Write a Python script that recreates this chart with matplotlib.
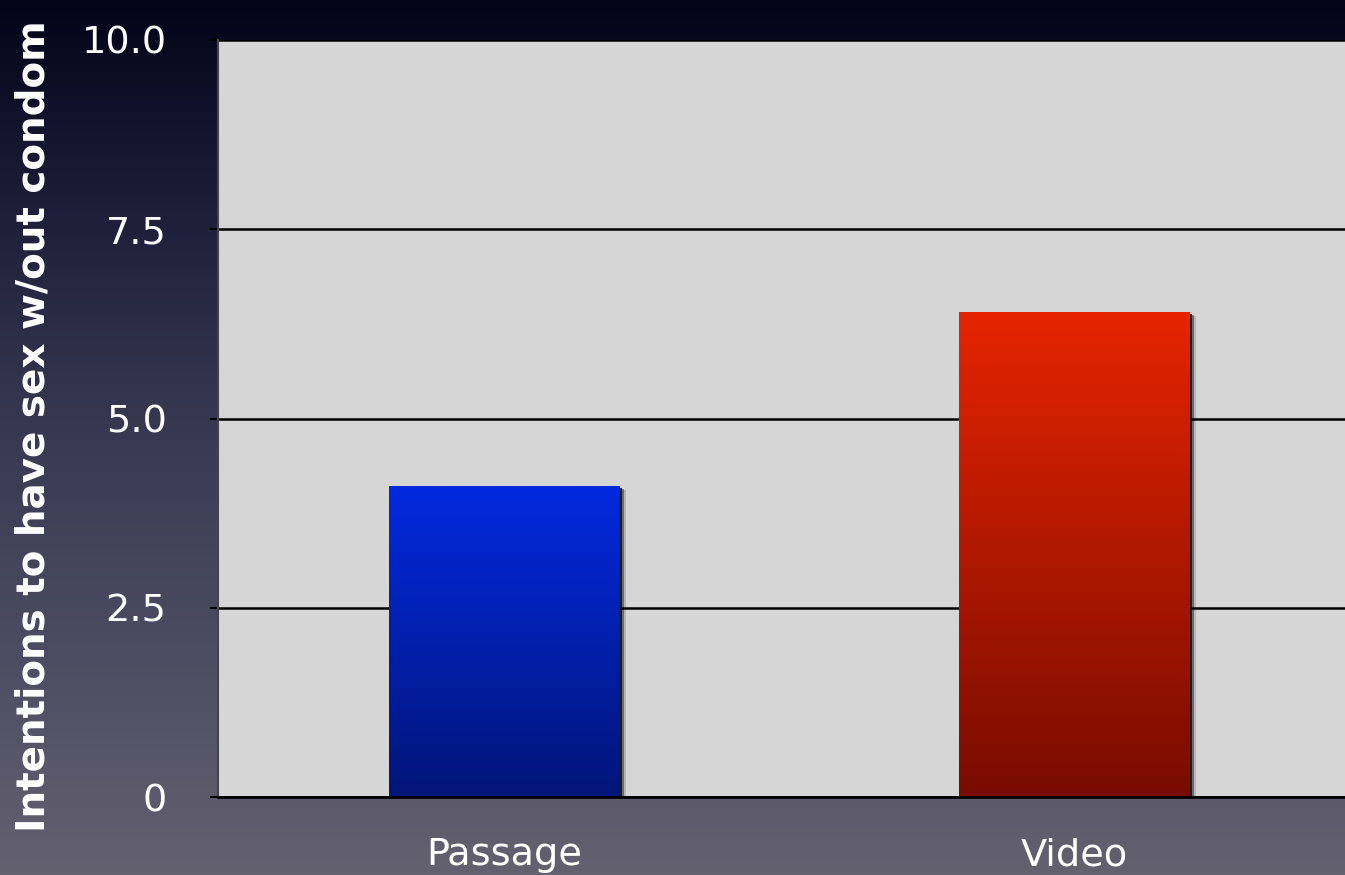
import matplotlib as mpl
mpl.use('Agg')
import matplotlib.pyplot as plt
import matplotlib.colors as mcolors
import numpy as np

# bar chart data
categories = ['Passage', 'Video']
values = [4.1, 6.4]
y_ticks = [0, 2.5, 5.0, 7.5, 10.0]
y_tick_labels = ['0', '2.5', '5.0', '7.5', '10.0']
y_label = 'Intentions to have sex w/out condom'

# top/bottom colours of each bar's gradient
bar_top = ['#0329df', '#e62400']
bar_bottom = ['#011578', '#780c00']

fig = plt.figure(figsize=(13.45, 8.75), dpi=100)

# dark slide background, navy at the top fading to grey-violet
bg = fig.add_axes([0, 0, 1, 1], zorder=-10)
bg_cmap = mcolors.LinearSegmentedColormap.from_list(
    'bg', ['#030318', '#1f1f3a', '#393a52', '#4d4c62', '#64616f'])
bg.imshow(np.linspace(0, 1, 256).reshape(-1, 1), aspect='auto', cmap=bg_cmap,
          extent=[0, 1, 0, 1], origin='upper')
bg.axis('off')

ax = fig.add_axes([218 / 1345, 1 - 797 / 875, 1 - 218 / 1345, (797 - 40) / 875])
ax.set_facecolor('#d6d6d6')

x = np.arange(len(categories))
width = 0.404
bars = ax.bar(x, values, width=width, color='none', zorder=3)

for i, b in enumerate(bars):
    x0, w, h = b.get_x(), b.get_width(), b.get_height()
    # soft drop shadow on the right side
    for k, a in enumerate([0.75, 0.4, 0.15]):
        ax.add_patch(plt.Rectangle((x0 + 0.004 + 0.004 * k, 0), w, h - 0.02 - 0.01 * k,
                                   color='black', alpha=a, lw=0, zorder=2))
    cmap = mcolors.LinearSegmentedColormap.from_list(
        'bar%d' % i, [bar_bottom[i], bar_top[i]])
    ax.imshow(np.linspace(0, 1, 256).reshape(-1, 1), aspect='auto', cmap=cmap,
              extent=[x0, x0 + w, 0, h], origin='lower', zorder=3)

ax.set_xlim(-0.502, 1.475)
ax.set_ylim(0, 10)

ax.set_yticks(y_ticks)
ax.set_yticklabels(y_tick_labels)
ax.set_xticks(x)
ax.set_xticklabels(categories)
ax.grid(axis='y', color='black', lw=1.8, zorder=1)

for side in ['top', 'right']:
    ax.spines[side].set_visible(False)
ax.spines['left'].set_color('#444444')
ax.spines['left'].set_linewidth(1.5)
ax.spines['bottom'].set_color('black')
ax.spines['bottom'].set_linewidth(2)
ax.spines['bottom'].set_zorder(4)

ax.tick_params(axis='y', direction='out', length=6, width=1.5, color='black',
               labelcolor='white', labelsize=27.5, pad=31)
ax.tick_params(axis='x', length=0, labelcolor='white', labelsize=27.5, pad=29)

fig.text(0.025, 1 - 426 / 875, y_label, rotation=90, color='white',
         fontsize=28, fontweight='bold', ha='center', va='center')

plt.savefig('out.png', dpi=100)
